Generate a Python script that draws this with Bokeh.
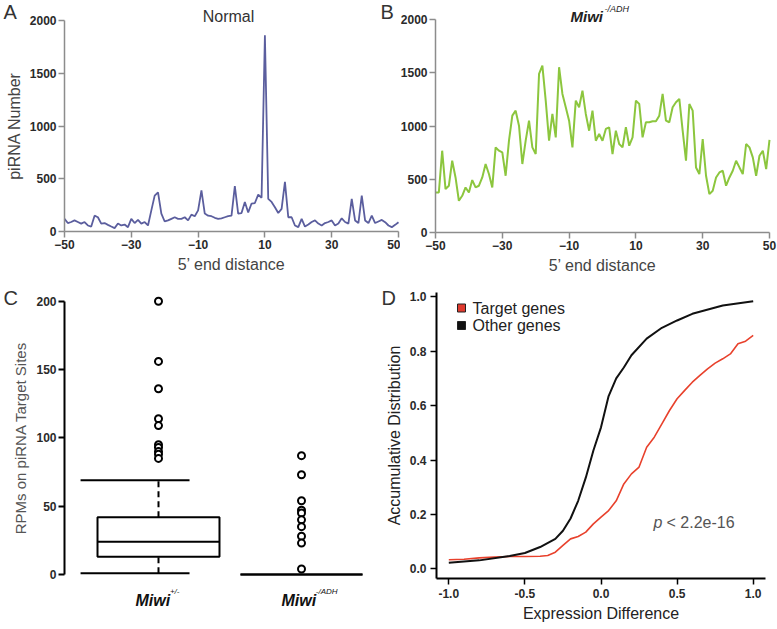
from bokeh.plotting import figure
from bokeh.layouts import row, column
from bokeh.models import Range1d, Label, FixedTicker, NumeralTickFormatter
from bokeh.embed import file_html
from bokeh.resources import INLINE

FONT = "Liberation Sans"

# ---------------- data ----------------
positions = list(range(-50, 51))
normal_counts = [120, 80, 90, 105, 90, 75, 90, 57, 47, 150,
                 135, 75, 80, 63, 47, 32, 75, 57, 66, 41,
                 120, 80, 110, 75, 90, 57, 200, 340, 370, 170,
                 95, 105, 120, 135, 120, 120, 135, 105, 160, 145,
                 200, 390, 170, 150, 145, 130, 120, 125, 135, 145,
                 150, 430, 170, 175, 280, 180, 265, 270, 350, 320,
                 1860, 310, 280, 230, 175, 215, 470, 135, 135, 57,
                 41, 120, 47, 66, 90, 105, 75, 57, 80, 90,
                 105, 57, 75, 125, 90, 75, 310, 105, 80, 340,
                 105, 80, 150, 80, 95, 110, 88, 57, 41, 63, 88]
miwi_adh_counts = [376, 376, 768, 408, 439, 674, 517, 298, 345, 423,
                   376, 492, 423, 439, 517, 643, 549, 423, 799, 768,
                   752, 533, 862, 1097, 1144, 1003, 643, 862, 1050, 799,
                   737, 1489, 1567, 1238, 862, 1113, 893, 1552, 1301, 1176,
                   1050, 799, 1238, 1176, 1332, 1113, 956, 1144, 862, 925,
                   862, 972, 988, 737, 956, 831, 799, 988, 815, 893,
                   1238, 1207, 893, 1035, 1035, 1045, 1045, 1097, 1301, 1050,
                   1035, 1176, 1223, 1254, 956, 674, 1207, 1144, 611, 549,
                   878, 533, 360, 392, 517, 564, 580, 439, 517, 580,
                   674, 611, 549, 831, 799, 705, 533, 721, 768, 596, 870]

box_groups = [1, 2]
box_names = ["Miwi", "Miwi"]
box_sups = ["+/-", "-/ADH"]
box_q1 = [13, 0]
box_median = [24, 0]
box_q3 = [42, 0]
box_low = [1, 0]
box_high = [69, 0]
outliers_g1 = [200, 156, 136, 114, 109, 95, 93, 90, 88, 85]
outliers_g2 = [87, 73, 54, 47, 45, 40, 35, 28, 23, 4]

diff_other = [-1.0, -0.8, -0.6, -0.5, -0.4, -0.3, -0.25, -0.2, -0.15, -0.1, -0.05,
              0.0, 0.05, 0.1, 0.15, 0.2, 0.3, 0.4, 0.5, 0.6, 0.8, 1.0]
cdf_other = [0.022, 0.031, 0.047, 0.058, 0.080, 0.110, 0.14, 0.185, 0.25, 0.335, 0.435,
             0.52, 0.635, 0.70, 0.74, 0.785, 0.846, 0.886, 0.913, 0.9375, 0.968, 0.984]
diff_target = [-1.0, -0.9, -0.8, -0.7, -0.6, -0.5, -0.4, -0.35, -0.3, -0.25, -0.2,
               -0.15, -0.1, -0.05, 0.0, 0.05, 0.1, 0.15, 0.2, 0.25, 0.3,
               0.35, 0.4, 0.45, 0.5, 0.55, 0.6, 0.65, 0.7, 0.75, 0.8,
               0.85, 0.9, 0.95, 1.0]
cdf_target = [0.033, 0.035, 0.040, 0.043, 0.045, 0.045, 0.046, 0.049, 0.061, 0.086, 0.110,
              0.119, 0.135, 0.165, 0.19, 0.214, 0.25, 0.312, 0.349, 0.374, 0.447,
              0.484, 0.533, 0.582, 0.625, 0.656, 0.686, 0.711, 0.735, 0.756, 0.772,
              0.79, 0.827, 0.837, 0.858]

x_ticks_ab = [-50, -30, -10, 10, 30, 50]
y_ticks_ab = [0, 500, 1000, 1500, 2000]
y_ticks_c = [0, 50, 100, 150, 200]
x_ticks_d = [-1.0, -0.5, 0.0, 0.5, 1.0]
y_ticks_d = [0.0, 0.2, 0.4, 0.6, 0.8, 1.0]


# ---------------- helpers (layout / styling) ----------------
class Geo:
    """Page-pixel geometry of one panel: canvas box and scale anchors."""
    def __init__(self, px0, px1, py0, py1, xa, xd, xppu, ya, yd, yppu):
        self.px0, self.px1, self.py0, self.py1 = px0, px1, py0, py1
        self.xa, self.xd, self.xppu = xa, xd, xppu
        self.ya, self.yd, self.yppu = ya, yd, yppu

    def dx(self, page_x):
        return self.xd + (page_x - self.xa) / self.xppu

    def dy(self, page_y):
        return self.yd + (self.ya - page_y) / self.yppu


def make_fig(g):
    p = figure(width=g.px1 - g.px0, height=g.py1 - g.py0,
               x_range=Range1d(g.dx(g.px0), g.dx(g.px1)),
               y_range=Range1d(g.dy(g.py1), g.dy(g.py0)),
               min_border=0, output_backend="svg", toolbar_location=None)
    p.outline_line_color = None
    p.xgrid.visible = False
    p.ygrid.visible = False
    p.background_fill_color = "white"
    p.border_fill_color = "white"
    return p


def style_axis(ax, color, lw, tick_size="12px", label_color="#444444"):
    ax.axis_line_color = color
    ax.axis_line_width = lw
    ax.major_tick_line_color = color
    ax.major_tick_line_width = lw
    ax.major_tick_out = 6
    ax.major_tick_in = 0
    ax.minor_tick_line_color = None
    ax.major_label_text_font = FONT
    ax.major_label_text_font_size = tick_size
    ax.major_label_text_font_style = "bold"
    ax.major_label_text_color = "#2a2a2a"
    ax.major_label_standoff = 2
    ax.axis_label_text_font = FONT
    ax.axis_label_text_font_size = "16px"
    ax.axis_label_text_font_style = "normal"
    ax.axis_label_text_color = label_color
    ax.axis_label_standoff = 4


def text(p, g, txt, page_x, page_y, size, style="normal", color="#333333",
         align="left", baseline="top"):
    p.add_layout(Label(x=g.dx(page_x), y=g.dy(page_y), text=txt, text_font=FONT,
                       text_font_size=size, text_font_style=style, text_color=color,
                       text_align=align, text_baseline=baseline))


gA = Geo(0, 400, 0, 283, 64, -50, 3.34, 231, 0, 0.1055)
gB = Geo(400, 777, 0, 283, 435, -50, 3.34, 232, 0, 0.1065)
gC = Geo(0, 380, 283, 629, 158, 1, 143, 574, 0, 1.366)
gD = Geo(380, 777, 283, 629, 600.5, 0, 152.2, 568.3, 0, 272)

# ---------------- Panel A ----------------
pA = make_fig(gA)
pA.line(positions, normal_counts, line_color="#5b5e9e", line_width=1.8)
for ax in (pA.xaxis[0], pA.yaxis[0]):
    style_axis(ax, "#8c8c8c", 1.5)
pA.xaxis.ticker = FixedTicker(ticks=x_ticks_ab)
pA.yaxis.ticker = FixedTicker(ticks=y_ticks_ab)
pA.xaxis.fixed_location = 0
pA.yaxis.fixed_location = -50
pA.xaxis.bounds = (-50, 50)
pA.yaxis.bounds = (0, 2000)
pA.xaxis.axis_label = "5\u2019 end distance"
pA.yaxis.axis_label = "piRNA Number"
text(pA, gA, "Normal", 228, 7, "16px", align="center")
text(pA, gA, "A", 3, 0, "20px")
text(pA, gA, "B", 380, 0, "20px")

# ---------------- Panel B ----------------
pB = make_fig(gB)
pB.line(positions, miwi_adh_counts, line_color="#8cc63e", line_width=2)
for ax in (pB.xaxis[0], pB.yaxis[0]):
    style_axis(ax, "#8c8c8c", 1.5)
pB.xaxis.ticker = FixedTicker(ticks=x_ticks_ab)
pB.yaxis.ticker = FixedTicker(ticks=y_ticks_ab)
pB.xaxis.fixed_location = 0
pB.yaxis.fixed_location = -50
pB.xaxis.bounds = (-50, 50)
pB.yaxis.bounds = (0, 2000)
pB.xaxis.axis_label = "5\u2019 end distance"
text(pB, gB, "Miwi", 570, 7, "15px", style="bold italic", color="#222222")
text(pB, gB, "-/ADH", 604, 3, "9px", style="italic", color="#222222")

# ---------------- Panel C ----------------
box_w = 0.853
pC = make_fig(gC)
pC.quad(left=[x - box_w / 2 for x in box_groups], right=[x + box_w / 2 for x in box_groups],
        bottom=box_q1, top=box_q3, fill_color=None, line_color="black", line_width=2)
pC.segment(x0=[x - box_w / 2 for x in box_groups], x1=[x + box_w / 2 for x in box_groups],
           y0=box_median, y1=box_median, line_color="black", line_width=2)
wg = [i for i in range(len(box_groups)) if box_high[i] > box_q3[i]]
pC.segment(x0=[box_groups[i] for i in wg], x1=[box_groups[i] for i in wg],
           y0=[box_q3[i] for i in wg], y1=[box_high[i] for i in wg],
           line_color="black", line_width=2, line_dash="6 4")
pC.segment(x0=[box_groups[i] for i in wg], x1=[box_groups[i] for i in wg],
           y0=[box_low[i] for i in wg], y1=[box_q1[i] for i in wg],
           line_color="black", line_width=2, line_dash="6 4")
pC.segment(x0=[box_groups[i] - 0.545 for i in wg] * 2, x1=[box_groups[i] + 0.217 for i in wg] * 2,
           y0=[box_high[i] for i in wg] + [box_low[i] for i in wg],
           y1=[box_high[i] for i in wg] + [box_low[i] for i in wg],
           line_color="black", line_width=2)
pC.scatter([box_groups[0]] * len(outliers_g1) + [box_groups[1]] * len(outliers_g2),
           outliers_g1 + outliers_g2, marker="circle", size=7,
           fill_color="white", line_color="black", line_width=2)
pC.xaxis.visible = False
style_axis(pC.yaxis[0], "black", 2, label_color="#555555")
pC.yaxis.ticker = FixedTicker(ticks=y_ticks_c)
pC.yaxis.fixed_location = gC.dx(64)
pC.yaxis.bounds = (0, 200)
pC.yaxis.axis_label = "RPMs on piRNA Target Sites"
pC.yaxis.axis_label_text_font_size = "15px"
name_dx = [-0.161, -0.14]
sup_dx = [0.08, 0.1]
for gx, nm, sp, ndx, sdx in zip(box_groups, box_names, box_sups, name_dx, sup_dx):
    pC.add_layout(Label(x=gx + ndx, y=gC.dy(600), text=nm, text_font=FONT,
                        text_font_size="16px", text_font_style="bold italic",
                        text_color="#111111", text_baseline="middle", text_align="left"))
    pC.add_layout(Label(x=gx + sdx, y=gC.dy(591), text=sp, text_font=FONT,
                        text_font_size="8px", text_font_style="italic",
                        text_color="#111111", text_baseline="middle", text_align="left"))
text(pC, gC, "C", 3, 286, "20px")

# ---------------- Panel D ----------------
pD = make_fig(gD)
pD.line(diff_target, cdf_target, line_color="#e8412c", line_width=1.6)
pD.line(diff_other, cdf_other, line_color="#111111", line_width=2)
for ax in (pD.xaxis[0], pD.yaxis[0]):
    style_axis(ax, "black", 2, label_color="#222222")
    ax.major_tick_line_width = 1.5
    ax.major_label_standoff = 4
pD.xaxis.ticker = FixedTicker(ticks=x_ticks_d)
pD.yaxis.ticker = FixedTicker(ticks=y_ticks_d)
pD.xaxis.formatter = NumeralTickFormatter(format="0.0")
pD.yaxis.formatter = NumeralTickFormatter(format="0.0")
x_lo, x_hi = gD.dx(436), gD.dx(765)
y_lo, y_hi = gD.dy(578), gD.dy(292)
pD.xaxis.fixed_location = y_lo
pD.yaxis.fixed_location = x_lo
pD.xaxis.bounds = (x_lo, x_hi)
pD.yaxis.bounds = (y_lo, y_hi)
pD.xaxis.axis_label = "Expression Difference"
pD.yaxis.axis_label = "Accumulative Distribution"
pD.scatter([gD.dx(461), gD.dx(461)], [gD.dy(307.5), gD.dy(325)], marker="square", size=8,
           fill_color=["#e03a2e", "#111111"], line_color="#222222", line_width=1)
text(pD, gD, "Target genes", 472, 307.5, "16px", color="#222222", baseline="middle")
text(pD, gD, "Other genes", 472, 325, "16px", color="#222222", baseline="middle")
text(pD, gD, "p", 653, 522, "16px", style="italic", color="#555555", baseline="middle")
text(pD, gD, "< 2.2e-16", 666, 522, "16px", color="#555555", baseline="middle")
text(pD, gD, "D", 381, 286, "20px")

layout = column(row(pA, pB), row(pC, pD))
open("out.html", "w").write(file_html(layout, INLINE))
